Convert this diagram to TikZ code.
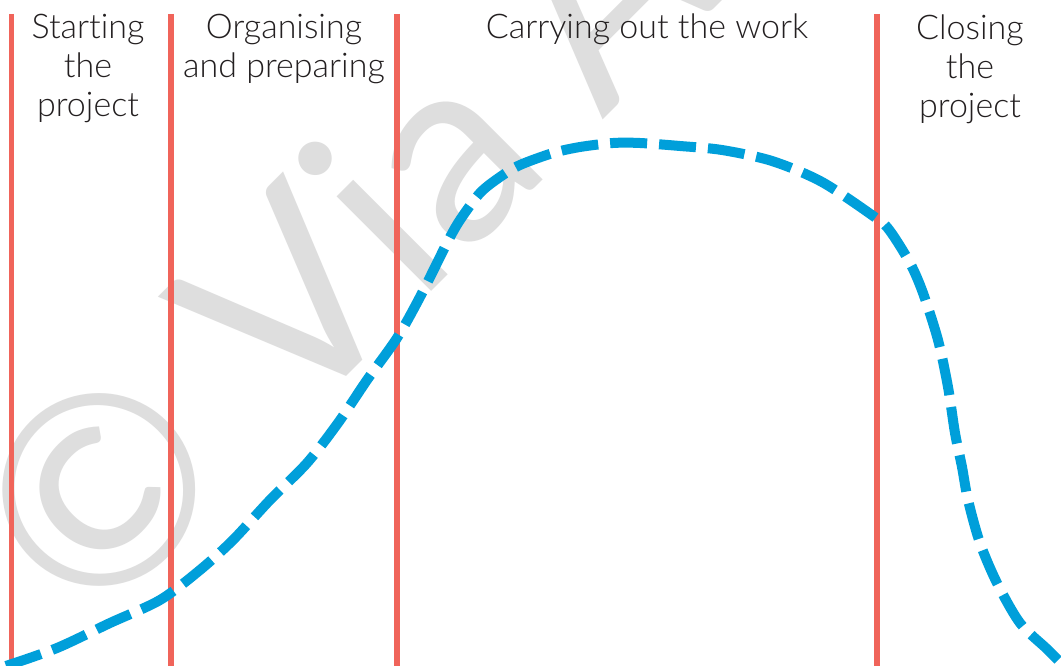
\documentclass[tikz,border=0pt]{standalone}
\usepackage{fontspec}
\newfontfamily\labelfont{Lato Light}[RawFeature={-liga;-clig}]
\newfontfamily\markfont{Lato}
\definecolor{phasered}{HTML}{F0645A}
\definecolor{curveblue}{HTML}{009FDA}
\definecolor{markgray}{HTML}{DEDEDE}
\definecolor{inkgray}{HTML}{231F20}
\tikzset{
  divider/.style={draw=phasered, line width=5.5pt},
  % the base anchor of a multi-line node sits on its last line
  phaselabel/.style={anchor=base, inner sep=0pt, align=center, text=inkgray,
    font=\labelfont\fontsize{34}{39}\selectfont},
  effortcurve/.style={draw=curveblue, line width=10pt, dash pattern=on 37pt off 12pt},
  watermark/.style={anchor=base west, inner sep=0pt, rotate=45, text=markgray,
    font=\markfont\fontsize{264}{264}\selectfont}
}
\begin{document}
\begin{tikzpicture}[x=1pt, y=-1pt]
\useasboundingbox (0,0) rectangle (1061,666);
\fill[white] (0,0) rectangle (1061,666);

% copyright mark behind everything
\begin{scope}
  \clip (0,0) rectangle (1061,666);
  \node[watermark] (mark) at (88,635) {© Via Afrika};
\end{scope}

% phase dividers
\foreach \name/\x in {d1/11.5, d2/171, d3/397, d4/877} {
  \coordinate (\name top) at (\x,14);
  \coordinate (\name bot) at (\x,667);
  \draw[divider] (\name top) -- (\name bot);
}

% phase titles
\node[phaselabel] (start) at (88,117) {Starting\\the\\project};
\node[phaselabel] (organise) at (284,78) {Organising\\and preparing};
\node[phaselabel] (carry) at (647,39) {Carrying out the work};
\node[phaselabel] (close) at (970,118) {Closing\\the\\project};

% effort over the life of the project
\draw[effortcurve] plot[smooth, tension=0.5] coordinates {
  (6,666) (57,648) (110,623) (160,600) (200,570) (233,540) (270,500)
  (307,463) (338,423) (367,380) (397,338) (420,297) (447,243) (460,220)
  (480,193) (500,177) (520,165) (553,153) (580,147) (613,143) (640,143)
  (680,146) (722,150) (772,161) (822,182) (876,218) (890,231) (910,263)
  (923,293) (938,340) (948,387) (955,433) (962,467) (968,500) (980,543)
  (997,583) (1020,623) (1047,649) (1064,666)};
\end{tikzpicture}
\end{document}
